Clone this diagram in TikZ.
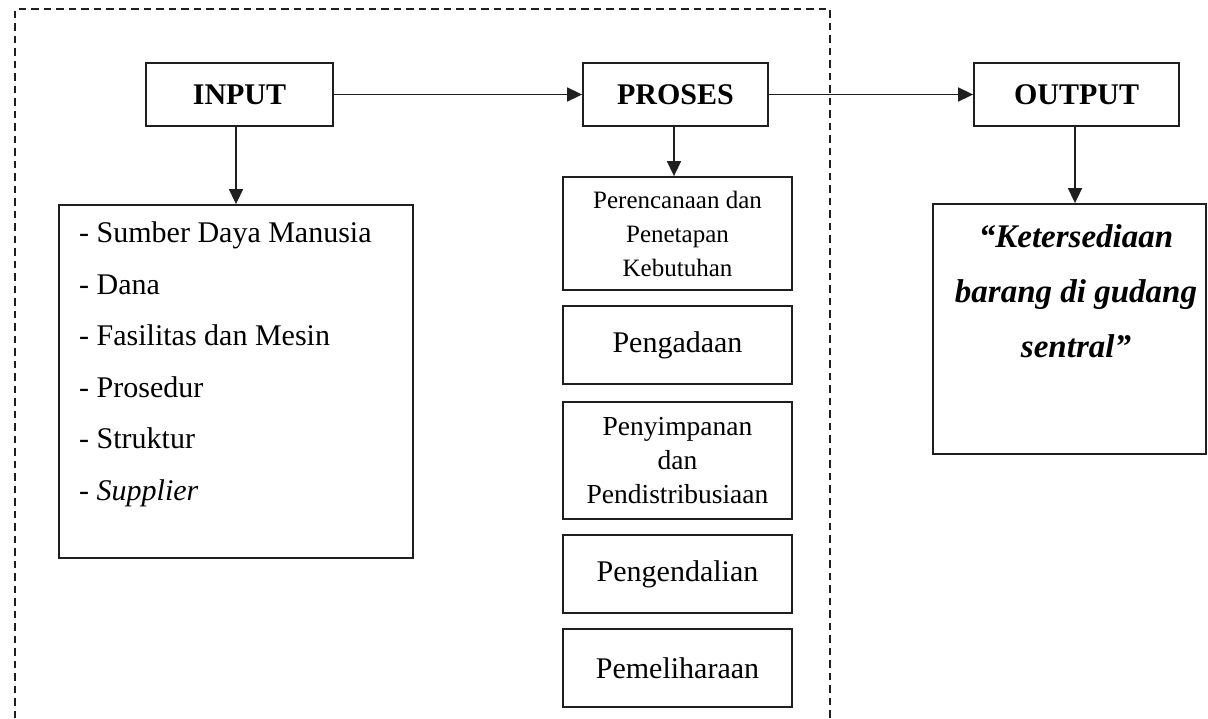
\documentclass[tikz,border=0pt]{standalone}
\usepackage{fontspec}
\setmainfont{Liberation Serif}
\usetikzlibrary{arrows.meta}
\begin{document}
\begin{tikzpicture}[x=1pt,y=-1pt,
  box/.style={draw=black!88, line width=1.8pt, inner sep=0pt, align=center},
  head/.style={box, minimum height=63pt, font=\fontsize{30}{34}\selectfont\bfseries},
  stepbox/.style={box, minimum width=229pt},
  arr/.style={draw=black!88, line width=1.6pt, -{Triangle[length=15pt,width=14pt]}},
  frame/.style={draw=black!88, line width=1.5pt, dash pattern=on 7.5pt off 5pt}
]
\useasboundingbox (0,0) rectangle (1208,718);

% dashed frame around input and process (open at the bottom)
\draw[frame] (15,718) -- (15,9) -- (830,9) -- (830,718);

% top row
\node[head, minimum width=187pt] (inp) at (239.5,94.5) {INPUT};
\node[head, minimum width=185pt] (pro) at (675.5,94.5) {PROSES};
\node[head, minimum width=205pt] (out) at (1076.5,94.5) {OUTPUT};

% input resources
\node[box, minimum width=354pt, minimum height=353pt] (lst) at (236,381.5) {};
\node[anchor=north west, inner sep=0pt, align=left,
      font=\fontsize{30}{51.6}\selectfont] (lsttxt) at (79,221.5)
  {- Sumber Daya Manusia\\- Dana\\- Fasilitas dan Mesin\\- Prosedur\\- Struktur\\- \textit{Supplier}};

% process steps
\node[stepbox, minimum height=113pt, font=\fontsize{25}{34}\selectfont] (p1) at (677.5,233.5)
  {Perencanaan dan\\Penetapan\\Kebutuhan};
\node[stepbox, minimum height=78pt, font=\fontsize{30}{34}\selectfont] (p2) at (677.5,345)
  {Pengadaan};
\node[stepbox, minimum height=117pt, font=\fontsize{27.5}{34}\selectfont] (p3) at (677.5,460.5)
  {Penyimpanan\\dan\\Pendistribusiaan};
\node[stepbox, minimum height=78pt, font=\fontsize{30}{34}\selectfont] (p4) at (677.5,574)
  {Pengendalian};
\node[stepbox, minimum height=78pt, font=\fontsize{30}{34}\selectfont] (p5) at (677.5,668)
  {Pemeliharaan};

% output result
\node[box, minimum width=273pt, minimum height=250pt] (ket) at (1069.5,329) {};
\node[anchor=north, inner sep=0pt, align=center,
      font=\fontsize{33}{55}\selectfont\bfseries\itshape] (kettxt) at (1076,224.5)
  {“Ketersediaan\\barang di gudang\\sentral”};

% connectors
\draw[arr] (inp.east) -- (pro.west);
\draw[arr] (pro.east) -- (out.west);
\draw[arr] ([xshift=-3.5pt]inp.south) -- ([xshift=-3.5pt]inp.south |- lst.north);
\draw[arr] ([xshift=-1.5pt]pro.south) -- ([xshift=-1.5pt]pro.south |- p1.north);
\draw[arr] ([xshift=-1.5pt]out.south) -- ([xshift=-1.5pt]out.south |- ket.north);
\end{tikzpicture}
\end{document}
